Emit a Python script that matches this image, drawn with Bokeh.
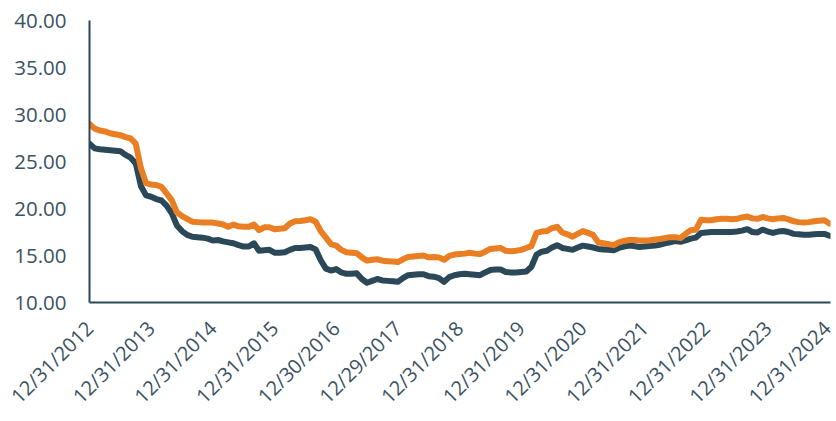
import math
from bokeh.plotting import figure
from bokeh.models import FixedTicker, Range1d, ColumnDataSource
from bokeh.embed import file_html
from bokeh.resources import INLINE

# Month-end observations, 12/2012 .. 12/2024 (145 points)
series_orange = [
    29.0, 28.5, 28.3, 28.2, 28.0, 27.9, 27.8, 27.6, 27.45, 26.9,
    24.3, 22.7, 22.55, 22.5, 22.3, 21.6, 20.9, 19.6, 19.2, 18.9,
    18.6, 18.55, 18.5, 18.5, 18.5, 18.4, 18.3, 18.05, 18.3, 18.1,
    18.05, 18.05, 18.3, 17.7, 18.0, 18.0, 17.8, 17.85, 17.9, 18.4,
    18.65, 18.67, 18.75, 18.85, 18.6, 17.6, 16.9, 16.2, 16.05, 15.6,
    15.35, 15.3, 15.25, 14.8, 14.45, 14.55, 14.6, 14.45, 14.4, 14.35,
    14.3, 14.6, 14.85, 14.9, 14.95, 15.0, 14.8, 14.85, 14.8, 14.55,
    14.95, 15.1, 15.15, 15.2, 15.3, 15.2, 15.15, 15.4, 15.7, 15.75,
    15.8, 15.5, 15.45, 15.5, 15.6, 15.8, 16.0, 17.4, 17.55, 17.6,
    17.9, 18.05, 17.45, 17.25, 17.0, 17.3, 17.6, 17.4, 17.2, 16.4,
    16.3, 16.2, 16.1, 16.4, 16.55, 16.65, 16.65, 16.6, 16.6, 16.6,
    16.7, 16.75, 16.85, 16.95, 16.95, 16.85, 17.3, 17.7, 17.75, 18.8,
    18.75, 18.75, 18.85, 18.9, 18.9, 18.85, 18.9, 19.05, 19.15, 18.95,
    18.9, 19.1, 18.95, 18.85, 18.95, 19.0, 18.85, 18.65, 18.55, 18.5,
    18.55, 18.65, 18.7, 18.75, 18.4,
]
series_dark = [
    26.9, 26.4, 26.3, 26.25, 26.2, 26.15, 26.1, 25.7, 25.4, 24.8,
    22.4, 21.4, 21.25, 21.0, 20.85, 20.3, 19.5, 18.2, 17.6, 17.2,
    17.0, 16.95, 16.9, 16.8, 16.6, 16.65, 16.5, 16.4, 16.3, 16.1,
    15.95, 15.95, 16.3, 15.5, 15.55, 15.6, 15.3, 15.3, 15.35, 15.6,
    15.8, 15.8, 15.85, 15.9, 15.65, 14.5, 13.6, 13.4, 13.55, 13.2,
    13.05, 13.05, 13.1, 12.5, 12.1, 12.3, 12.5, 12.35, 12.3, 12.25,
    12.2, 12.6, 12.9, 12.95, 13.0, 13.0, 12.8, 12.75, 12.6, 12.2,
    12.7, 12.9, 13.0, 13.05, 13.0, 12.95, 12.9, 13.2, 13.45, 13.5,
    13.5, 13.25, 13.2, 13.2, 13.25, 13.3, 13.8, 15.1, 15.4, 15.5,
    15.85, 16.1, 15.8, 15.7, 15.6, 15.85, 16.05, 15.95, 15.85, 15.7,
    15.65, 15.6, 15.55, 15.8, 15.95, 16.05, 16.0, 15.9, 15.95, 16.0,
    16.05, 16.15, 16.3, 16.4, 16.55, 16.45, 16.6, 16.8, 16.9, 17.4,
    17.45, 17.5, 17.5, 17.5, 17.5, 17.5, 17.55, 17.65, 17.8, 17.5,
    17.45, 17.75, 17.55, 17.4, 17.55, 17.6, 17.5, 17.3, 17.25, 17.2,
    17.2, 17.25, 17.3, 17.3, 17.1,
]
x_tick_labels = [
    "12/31/2012", "12/31/2013", "12/31/2014", "12/31/2015", "12/30/2016",
    "12/29/2017", "12/31/2018", "12/31/2019", "12/31/2020", "12/31/2021",
    "12/31/2022", "12/31/2023", "12/31/2024",
]
y_ticks = [10, 15, 20, 25, 30, 35, 40]
y_tick_labels = ["10.00", "15.00", "20.00", "25.00", "30.00", "35.00", "40.00"]

months = list(range(len(series_orange)))
x_ticks = [12 * i for i in range(len(x_tick_labels))]

DARK = "#2b4858"
ORANGE = "#ea7e23"
TEXT = "#3a5263"

src = ColumnDataSource(dict(x=months, orange=series_orange, dark=series_dark))

p = figure(width=836, height=421, output_backend="svg", toolbar_location=None,
           x_range=Range1d(0, 144.2), y_range=Range1d(y_ticks[0], y_ticks[-1]),
           min_border_left=89, min_border_right=6, min_border_top=20,
           min_border_bottom=114)
p.outline_line_color = None
p.grid.visible = False
p.background_fill_color = "white"

p.line("x", "dark", source=src, line_color=DARK, line_width=6, line_join="round", line_cap="round")
p.line("x", "orange", source=src, line_color=ORANGE, line_width=6, line_join="round", line_cap="round")

p.yaxis.ticker = FixedTicker(ticks=y_ticks)
p.yaxis.major_label_overrides = {t: l for t, l in zip(y_ticks, y_tick_labels)}
p.xaxis.ticker = FixedTicker(ticks=x_ticks)
p.xaxis.major_label_overrides = {t: l for t, l in zip(x_ticks, x_tick_labels)}
p.xaxis.major_label_orientation = math.pi / 4

for ax in (p.xaxis[0], p.yaxis[0]):
    ax.axis_line_color = DARK
    ax.axis_line_width = 2
    ax.major_tick_line_color = None
    ax.minor_tick_line_color = None
    ax.major_tick_out = 0
    ax.major_tick_in = 0
    ax.major_label_text_color = TEXT
    ax.major_label_text_font = "Open Sans"

p.yaxis.major_label_text_font_size = "20.5px"
p.xaxis.major_label_text_font_size = "20px"
p.yaxis.major_label_standoff = 23
p.xaxis.major_label_standoff = 22

open("out.html", "w").write(file_html(p, INLINE))
